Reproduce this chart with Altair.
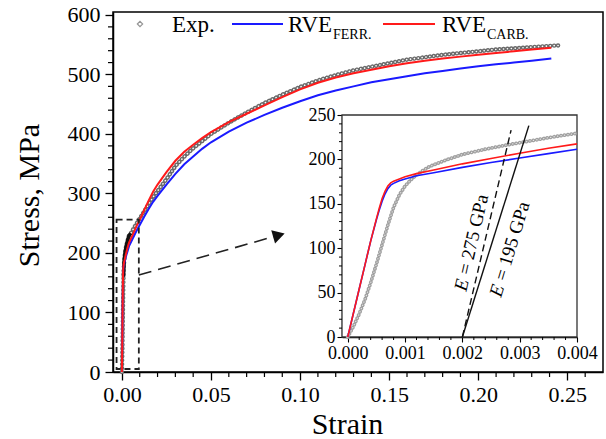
import altair as alt
import pandas as pd

FONT = "Liberation Serif"

# ---------------- data (strain, stress in MPa) ----------------
# small-strain part (shared by the main plot and the inset)
model_strain_small = [0, 0.0001, 0.0002, 0.0003, 0.0004, 0.0005, 0.00055, 0.0006, 0.00065,
                      0.0007, 0.00075, 0.0008, 0.0009, 0.001, 0.0012, 0.0015, 0.002, 0.0025,
                      0.003, 0.0035, 0.004]
carb_stress_small = [0, 27, 54, 81, 108, 133, 145, 156, 164, 170, 173.5, 175.5, 178, 180.5,
                     184, 188, 195, 201, 207, 212.5, 217.5]
ferr_stress_small = [0, 27, 54, 81, 108, 132, 143, 153, 161, 167, 171, 173, 176, 178,
                     181.5, 185, 191, 196.5, 201.5, 206.5, 211.5]

exp_strain_small = [0, 0.0001, 0.0002, 0.0003, 0.0004, 0.0005, 0.0006, 0.0007, 0.0008, 0.0009,
                    0.001, 0.0011, 0.0012, 0.0013, 0.0014, 0.0015, 0.0017, 0.002, 0.0024,
                    0.0028, 0.0032, 0.0036, 0.004]
exp_stress_small = [0, 12, 26, 42, 61, 82, 104, 126, 146, 160, 170, 177, 182.5, 187, 191, 194,
                    199, 205.5, 211.5, 216.5, 221, 225.5, 229.5]

# large-strain part
model_strain_large = [0.006, 0.008, 0.010, 0.0125, 0.015, 0.0175, 0.020, 0.025, 0.030, 0.035,
                      0.040, 0.045, 0.050, 0.060, 0.070, 0.080, 0.090, 0.100, 0.110, 0.120,
                      0.130, 0.140, 0.150, 0.160, 0.170, 0.180, 0.190, 0.200, 0.210, 0.220,
                      0.230, 0.241]
carb_stress_large = [230, 244, 256, 272, 288, 303, 315, 336, 355, 370, 382, 393, 403, 420, 434,
                     448, 462, 475, 486, 495, 502, 508, 514, 519, 523, 527, 530, 533, 536, 539,
                     542, 545]
ferr_stress_large = [224, 236, 247, 261, 274, 286, 296, 315, 333, 349, 362, 375, 386, 404, 419,
                     432, 444, 455, 465, 473, 480, 487, 492, 497, 502, 506, 510, 514, 517, 520,
                     523, 527]

exp_strain_large = [0.005, 0.0075, 0.010, 0.0125, 0.015, 0.0175, 0.020, 0.025, 0.030, 0.035,
                    0.040, 0.045, 0.050, 0.060, 0.070, 0.080, 0.090, 0.100, 0.110, 0.120, 0.130,
                    0.140, 0.150, 0.160, 0.170, 0.180, 0.190, 0.200, 0.210, 0.220, 0.230, 0.240,
                    0.246]
exp_stress_large = [233, 246, 258, 270, 282, 294, 304, 324, 346, 362, 376, 388, 400, 419, 436,
                    452, 466, 479, 490, 499, 507, 513, 519, 525, 529, 533, 536, 539, 542, 544,
                    546, 548, 549]

# elastic modulus guide lines in the inset
e275_strain = [0.002, 0.00285]
e275_stress = [0, 233]
e195_strain = [0.002, 0.00316]
e195_stress = [0, 238]

# zoom box and arrow (main-plot coordinates)
box_strain = [-0.003, 0.0095]
box_stress = [5, 256]
arrow_strain = [0.0095, 0.0881]
arrow_stress = [163, 230]

# tick values
main_x_major = [0, 0.05, 0.10, 0.15, 0.20, 0.25]
main_x_minor = [0.01, 0.02, 0.03, 0.04, 0.06, 0.07, 0.08, 0.09, 0.11, 0.12, 0.13, 0.14, 0.16,
                0.17, 0.18, 0.19, 0.21, 0.22, 0.23, 0.24, 0.26]
main_y_major = [0, 100, 200, 300, 400, 500, 600]
main_y_minor = [20, 40, 60, 80, 120, 140, 160, 180, 220, 240, 260, 280, 320, 340, 360, 380,
                420, 440, 460, 480, 520, 540, 560, 580]
ins_x_major = [0, 0.001, 0.002, 0.003, 0.004]
ins_x_minor = [0.0002, 0.0004, 0.0006, 0.0008, 0.0012, 0.0014, 0.0016, 0.0018, 0.0022, 0.0024,
               0.0026, 0.0028, 0.0032, 0.0034, 0.0036, 0.0038]
ins_y_major = [0, 50, 100, 150, 200, 250]
ins_y_minor = [10, 20, 30, 40, 60, 70, 80, 90, 110, 120, 130, 140, 160, 170, 180, 190, 210,
               220, 230, 240]

# ---------------- layout constants (pixels, relative to the main plot area) ----------------
W, H = 490, 360
IN_L, IN_R, IN_T, IN_B = 229, 464, 103, 325

# ---------------- tables ----------------
carb = pd.DataFrame({"strain": model_strain_small + model_strain_large,
                     "stress": carb_stress_small + carb_stress_large})
ferr = pd.DataFrame({"strain": model_strain_small + model_strain_large,
                     "stress": ferr_stress_small + ferr_stress_large})
expd = pd.DataFrame({"strain": exp_strain_small + exp_strain_large,
                     "stress": exp_stress_small + exp_stress_large})
carb_in = pd.DataFrame({"strain": model_strain_small, "stress": carb_stress_small})
ferr_in = pd.DataFrame({"strain": model_strain_small, "stress": ferr_stress_small})
exp_in = pd.DataFrame({"strain": exp_strain_small, "stress": exp_stress_small})
e275 = pd.DataFrame({"strain": e275_strain, "stress": e275_stress})
e195 = pd.DataFrame({"strain": e195_strain, "stress": e195_stress})
box = pd.DataFrame({"x": [box_strain[0]], "x2": [box_strain[1]],
                    "y": [box_stress[0]], "y2": [box_stress[1]]})
arrow = pd.DataFrame({"x": [arrow_strain[0]], "x2": [arrow_strain[1]],
                      "y": [arrow_stress[0]], "y2": [arrow_stress[1]]})
one = pd.DataFrame({"a": [0]})

# ---------------- main scales / axes ----------------
mx_scale = alt.Scale(domain=[-0.005, 0.27], nice=False, zero=False)
my_scale = alt.Scale(domain=[0, 605], nice=False, zero=False)
mx_axis = alt.Axis(values=main_x_major, format=".2f", labelFont=FONT, labelFontSize=22,
                   tickSize=8, tickWidth=1.3, domainWidth=1.5, labelPadding=4, labelFlush=False,
                   labelOverlap=False, grid=False, title="Strain", titleFont=FONT,
                   titleFontSize=30, titleFontWeight="normal",
                   titleX=234, titleY=61, titleBaseline="alphabetic")
my_axis = alt.Axis(values=main_y_major, format="d", labelFont=FONT, labelFontSize=22,
                   tickSize=8, tickWidth=1.3, domainWidth=1.5, labelPadding=5, labelFlush=False,
                   labelOverlap=False, grid=False, title="Stress, MPa", titleFont=FONT,
                   titleFontSize=30, titleFontWeight="normal",
                   titleX=-75, titleY=183, titleAngle=270, titleBaseline="alphabetic")


def mxy(chart):
    return chart.encode(
        x=alt.X("strain:Q", scale=mx_scale, axis=mx_axis),
        y=alt.Y("stress:Q", scale=my_scale, axis=my_axis),
    )


exp_ring_o = mxy(alt.Chart(expd).mark_line(color="#6a6a6a", strokeWidth=4.4, strokeCap="round",
                                           strokeDash=[0.1, 3.8]))
exp_ring_i = mxy(alt.Chart(expd).mark_line(color="white", strokeWidth=1.6, strokeCap="round",
                                           strokeDash=[0.1, 3.8]))
exp_dense = mxy(alt.Chart(expd).transform_filter("datum.strain >= 0.0009 && datum.strain <= 0.0055")
                .mark_line(color="#111111", strokeWidth=3.5))
ferr_line = mxy(alt.Chart(ferr).mark_line(color="#1a1aff", strokeWidth=2))
carb_line = mxy(alt.Chart(carb).mark_line(color="#ff1a1a", strokeWidth=2))

box_mark = alt.Chart(box).mark_rect(fill=None, fillOpacity=0, stroke="#222222", strokeWidth=1.8,
                                    strokeDash=[6, 4]).encode(
    x=alt.X("x:Q", scale=mx_scale, axis=mx_axis), x2="x2:Q",
    y=alt.Y("y:Q", scale=my_scale, axis=my_axis), y2="y2:Q")
arrow_line = alt.Chart(arrow).mark_rule(color="#222222", strokeWidth=1.6,
                                        strokeDash=[13, 7]).encode(
    x=alt.X("x:Q", scale=mx_scale, axis=mx_axis), x2="x2:Q",
    y=alt.Y("y:Q", scale=my_scale, axis=my_axis), y2="y2:Q")
arrow_head = alt.Chart(arrow).mark_point(shape="triangle-right", filled=True, color="#111111",
                                         size=190, angle=344, opacity=1).encode(
    x=alt.X("x2:Q", scale=mx_scale, axis=mx_axis),
    y=alt.Y("y2:Q", scale=my_scale, axis=my_axis))

mxm = alt.Chart(pd.DataFrame({"v": main_x_minor})).mark_rule(color="black", strokeWidth=1.2).encode(
    x=alt.X("v:Q", scale=mx_scale, axis=mx_axis), y=alt.value(H), y2=alt.value(H + 5))
mym = alt.Chart(pd.DataFrame({"v": main_y_minor})).mark_rule(color="black", strokeWidth=1.2).encode(
    y=alt.Y("v:Q", scale=my_scale, axis=my_axis), x=alt.value(0), x2=alt.value(-5))


# legend (drawn by hand to allow subscripts)
def txt(s, x, y, size, align="left", baseline="alphabetic", style="normal", angle=0, dx=0):
    return alt.Chart(one).mark_text(text=s, font=FONT, fontSize=size, align=align,
                                    baseline=baseline, fontStyle=style, angle=angle, dx=dx,
                                    color="black").encode(x=alt.value(x), y=alt.value(y))


leg_diamond = alt.Chart(one).mark_point(shape="diamond", size=28, color="#6a6a6a", filled=False,
                                        strokeWidth=1.2).encode(x=alt.value(27), y=alt.value(12))
leg_blue = alt.Chart(one).mark_rule(color="#1a1aff", strokeWidth=2).encode(
    x=alt.value(119), x2=alt.value(170), y=alt.value(12))
leg_red = alt.Chart(one).mark_rule(color="#ff1a1a", strokeWidth=2).encode(
    x=alt.value(270), x2=alt.value(322), y=alt.value(12))
legend = [leg_diamond, txt("Exp.", 59, 20, 23), leg_blue, txt("RVE", 175, 20, 23),
          txt("FERR.", 220, 27, 14), leg_red, txt("RVE", 329, 20, 23), txt("CARB.", 374, 27, 14)]

main = alt.layer(exp_ring_o, exp_ring_i, exp_dense, ferr_line, carb_line, box_mark, arrow_line,
                 arrow_head, mxm, mym, *legend)

# ---------------- inset ----------------
ix_scale = alt.Scale(domain=[-0.0001, 0.004], range=[IN_L, IN_R], nice=False, zero=False)
iy_scale = alt.Scale(domain=[0, 250], range=[IN_B, IN_T], nice=False, zero=False)
ix_axis = alt.Axis(values=ins_x_major, format=".3f", labelFont=FONT, labelFontSize=18,
                   tickSize=5, tickWidth=1.1, domainWidth=1.3, labelPadding=2, labelFlush=False,
                   labelOverlap=False, grid=False, title=None, orient="bottom",
                   offset=IN_B - H)
iy_axis = alt.Axis(values=ins_y_major, format="d", labelFont=FONT, labelFontSize=18,
                   tickSize=5, tickWidth=1.1, domainWidth=1.3, labelPadding=2, labelFlush=False,
                   labelOverlap=False, grid=False, title=None, orient="left", offset=-IN_L)


def ixy(chart):
    return chart.encode(
        x=alt.X("strain:Q", scale=ix_scale, axis=ix_axis),
        y=alt.Y("stress:Q", scale=iy_scale, axis=iy_axis),
    )


in_bg = alt.Chart(one).mark_rect(fill="white", stroke="#333333", strokeWidth=1.3).encode(
    x=alt.value(IN_L), x2=alt.value(IN_R), y=alt.value(IN_T), y2=alt.value(IN_B))
in_exp_o = ixy(alt.Chart(exp_in).mark_line(color="#a0a0a0", strokeWidth=3.8, strokeCap="round",
                                           strokeDash=[0.1, 3.4]))
in_exp_i = ixy(alt.Chart(exp_in).mark_line(color="#e6e6e6", strokeWidth=1.3, strokeCap="round",
                                           strokeDash=[0.1, 3.4]))
in_ferr = ixy(alt.Chart(ferr_in).mark_line(color="#1a1aff", strokeWidth=1.6))
in_carb = ixy(alt.Chart(carb_in).mark_line(color="#ff1a1a", strokeWidth=1.6))
in_e275 = ixy(alt.Chart(e275).mark_line(color="#111111", strokeWidth=1.4, strokeDash=[7, 4]))
in_e195 = ixy(alt.Chart(e195).mark_line(color="#111111", strokeWidth=1.4))

ixm = alt.Chart(pd.DataFrame({"v": ins_x_minor})).mark_rule(color="black", strokeWidth=1).encode(
    x=alt.X("v:Q", scale=ix_scale, axis=ix_axis), y=alt.value(IN_B), y2=alt.value(IN_B + 3))
iym = alt.Chart(pd.DataFrame({"v": ins_y_minor})).mark_rule(color="black", strokeWidth=1).encode(
    y=alt.Y("v:Q", scale=iy_scale, axis=iy_axis), x=alt.value(IN_L), x2=alt.value(IN_L - 3))

# modulus labels (rotated, italic E)
lab275 = [txt("E", 347.3, 278.7, 19, baseline="middle", style="italic", angle=283),
          txt("= 275 GPa", 347.3, 278.7, 19, baseline="middle", angle=283, dx=17)]
lab195 = [txt("E", 382.3, 284.3, 19, baseline="middle", style="italic", angle=287),
          txt("= 195 GPa", 382.3, 284.3, 19, baseline="middle", angle=287, dx=17)]

inset = alt.layer(in_bg, in_exp_o, in_exp_i, in_ferr, in_carb, in_e275, in_e195, ixm, iym,
                  *lab275, *lab195)

chart = alt.layer(main, inset).resolve_scale(x="independent", y="independent").properties(
    width=W, height=H,
    padding={"left": 113, "top": 12, "right": 3, "bottom": 67},
    autosize=alt.AutoSizeParams(type="none"),
    background="white",
).configure_view(stroke="black", strokeWidth=1.5).configure_axis(
    domainColor="black", tickColor="black", labelColor="black", titleColor="black",
    labelFont=FONT, titleFont=FONT, titleFontWeight="normal", labelFontWeight="normal",
)

chart.save("out.html", embed_options={"renderer": "svg", "actions": False})
